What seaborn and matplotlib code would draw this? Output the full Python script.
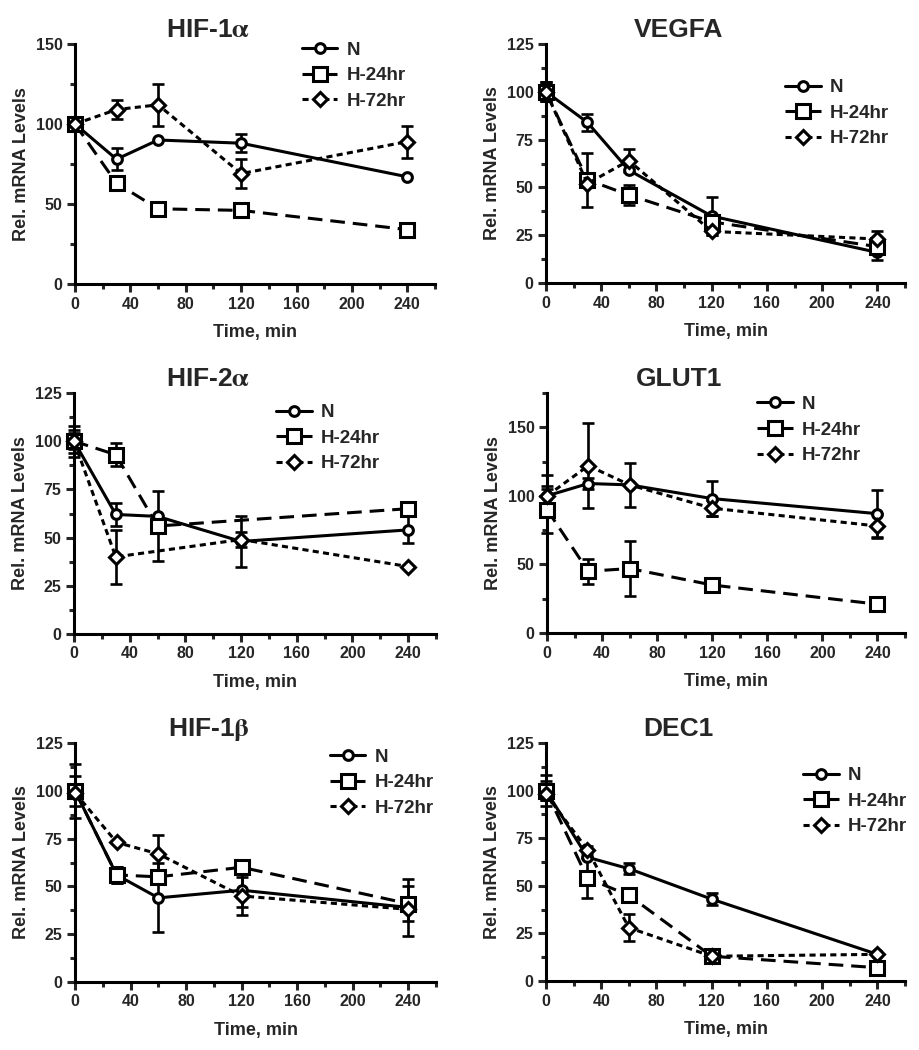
"""
Decaimento do mRNA (N, H-24hr, H-72hr) - seis genes, estilo Prism.
"""

import numpy as np
import pandas as pd
import matplotlib
matplotlib.use("Agg")
import matplotlib.pyplot as plt
from matplotlib.ticker import MultipleLocator
import seaborn as sns


TEMPOS = [0, 30, 60, 120, 240]
SERIES = ["N", "H-24hr", "H-72hr"]

# HIF-1alpha
HIF1A_N = [100, 78, 90, 88, 67]
HIF1A_N_ERR = [3, 7, 0, 5.5, 0]
HIF1A_H24 = [100, 63, 47, 46, 34]
HIF1A_H24_ERR = [3, 4, 0, 0, 0]
HIF1A_H72 = [100, 109, 112, 69, 89]
HIF1A_H72_ERR = [3, 6, 13, 9, 10]

# VEGFA
VEGFA_N = [100, 84, 59, 35, 16]
VEGFA_N_ERR = [5, 4.5, 0, 10, 4]
VEGFA_H24 = [100, 54, 46, 32, 19]
VEGFA_H24_ERR = [5, 14, 5, 0, 3]
VEGFA_H72 = [100, 52, 64, 27, 23]
VEGFA_H72_ERR = [5, 0, 6, 2, 4]

# HIF-2alpha (pontos ausentes = NaN)
HIF2A_N = [100, 62, 61, 48, 54]
HIF2A_N_ERR = [8, 6, 0, 13, 7]
HIF2A_H24 = [100, 93, 56, np.nan, 65]
HIF2A_H24_ERR = [6, 6, 18, 0, 0]
HIF2A_H72 = [100, 40, np.nan, 49, 35]
HIF2A_H72_ERR = [4, 14, 0, 4, 0]

# GLUT1
GLUT1_N = [100, 109, 108, 98, 87]
GLUT1_N_ERR = [15, 4, 16, 13, 17]
GLUT1_H24 = [90, 45, 47, 35, 21]
GLUT1_H24_ERR = [17, 9, 20, 0, 0]
GLUT1_H72 = [100, 122, 108, 91, 78]
GLUT1_H72_ERR = [5, 31, 0, 6, 9]

# HIF-1beta
HIF1B_N = [100, 56, 44, 48, 39]
HIF1B_N_ERR = [14, 4, 18, 9, 15]
HIF1B_H24 = [100, 56, 55, 60, 41]
HIF1B_H24_ERR = [8, 4, 3, 0, 9]
HIF1B_H72 = [99, 73, 67, 45, 38]
HIF1B_H72_ERR = [3, 0, 10, 10, 0]

# DEC1
DEC1_N = [100, 65, 59, 43, 14]
DEC1_N_ERR = [8, 0, 3, 3, 0]
DEC1_H24 = [100, 54, 45, 13, 7]
DEC1_H24_ERR = [5, 10.5, 0, 0, 0]
DEC1_H72 = [98, 69, 28, 13, 14]
DEC1_H72_ERR = [3, 2, 7, 2, 0]


sns.set_theme(style="ticks")
plt.rcParams["font.family"] = ["Liberation Sans", "DejaVu Sans"]
plt.rcParams["font.weight"] = "bold"
plt.rcParams["axes.labelweight"] = "bold"
plt.rcParams["axes.titleweight"] = "bold"
plt.rcParams["mathtext.fontset"] = "stix"

LW = 2.2  # espessura das linhas, eixos e bordas dos marcadores

ESTILOS = {
    "N":      dict(marker="o", markersize=7, linestyle="-"),
    "H-24hr": dict(marker="s", markersize=10, linestyle=(0, (4.8, 2.6))),
    "H-72hr": dict(marker="D", markersize=7.5, linestyle=(0, (2.0, 1.4))),
}

W, H = 920, 1050


def rect(esq, topo, dir, base):
    return [esq / W, 1 - base / H, (dir - esq) / W, (base - topo) / H]


def plotar_painel(ax, titulo, valores, erros, ymax, ymaj, leg_xy):
    for serie, y, e in zip(SERIES, valores, erros):
        df = pd.DataFrame({"t": TEMPOS, "v": y, "e": e}).dropna(subset=["v"])
        com_erro = df[df["e"] > 0]
        ax.errorbar(com_erro["t"], com_erro["v"], yerr=com_erro["e"], fmt="none",
                    ecolor="black", elinewidth=1.9, capsize=4.5, capthick=1.9,
                    zorder=2, clip_on=False)
        sns.lineplot(data=df, x="t", y="v", ax=ax, color="black", lw=LW,
                     markerfacecolor="white", markeredgecolor="black",
                     markeredgewidth=LW, label=serie, errorbar=None,
                     clip_on=False, zorder=3, **ESTILOS[serie])

    ax.set_xlim(0, 260)
    ax.set_ylim(0, ymax)
    ax.xaxis.set_major_locator(MultipleLocator(40))
    ax.xaxis.set_minor_locator(MultipleLocator(20))
    ax.yaxis.set_major_locator(MultipleLocator(ymaj))
    ax.yaxis.set_minor_locator(MultipleLocator(ymaj / 2))
    ax.tick_params(which="major", length=6, width=LW, labelsize=11.5, pad=3)
    ax.tick_params(which="minor", length=3.5, width=LW)
    for lado in ["left", "bottom"]:
        ax.spines[lado].set_linewidth(LW)
        ax.spines[lado].set_color("black")
    sns.despine(ax=ax)

    ax.set_title(titulo, fontsize=19, x=0.37, pad=5)
    ax.set_xlabel("Time, min", fontsize=13, labelpad=9)
    ax.set_ylabel("Rel. mRNA Levels", fontsize=13, labelpad=4)

    handles = [l for l in ax.get_lines() if l.get_label() in SERIES]
    ax.legend(handles=handles, labels=SERIES, loc="center left",
              bbox_to_anchor=leg_xy, frameon=False, fontsize=13.5,
              borderpad=0, borderaxespad=0, handlelength=1.9,
              handletextpad=0.5, labelspacing=0.45)


fig = plt.figure(figsize=(W / 100, H / 100), dpi=100)

paineis = [
    (rect(75, 44, 435, 284), r"HIF-1$\mathrm{\alpha}$",
     [HIF1A_N, HIF1A_H24, HIF1A_H72], [HIF1A_N_ERR, HIF1A_H24_ERR, HIF1A_H72_ERR],
     150, 50, (0.63, 0.867)),
    (rect(546, 44, 905, 283), "VEGFA",
     [VEGFA_N, VEGFA_H24, VEGFA_H72], [VEGFA_N_ERR, VEGFA_H24_ERR, VEGFA_H72_ERR],
     125, 25, (0.666, 0.711)),
    (rect(74, 393, 436, 634), r"HIF-2$\mathrm{\alpha}$",
     [HIF2A_N, HIF2A_H24, HIF2A_H72], [HIF2A_N_ERR, HIF2A_H24_ERR, HIF2A_H72_ERR],
     125, 25, (0.558, 0.813)),
    (rect(547, 393, 905, 633), "GLUT1",
     [GLUT1_N, GLUT1_H24, GLUT1_H72], [GLUT1_N_ERR, GLUT1_H24_ERR, GLUT1_H72_ERR],
     175, 50, (0.587, 0.846)),
    (rect(75, 743, 436, 982), r"HIF-1$\mathrm{\beta}$",
     [HIF1B_N, HIF1B_H24, HIF1B_H72], [HIF1B_N_ERR, HIF1B_H24_ERR, HIF1B_H72_ERR],
     125, 25, (0.706, 0.833)),
    (rect(546, 743, 905, 981), "DEC1",
     [DEC1_N, DEC1_H24, DEC1_H72], [DEC1_N_ERR, DEC1_H24_ERR, DEC1_H72_ERR],
     125, 25, (0.716, 0.756)),
]

for r, titulo, valores, erros, ymax, ymaj, leg_xy in paineis:
    ax = fig.add_axes(r)
    plotar_painel(ax, titulo, valores, erros, ymax, ymaj, leg_xy)

fig.savefig("out.png", dpi=100, facecolor="white")
plt.close(fig)
